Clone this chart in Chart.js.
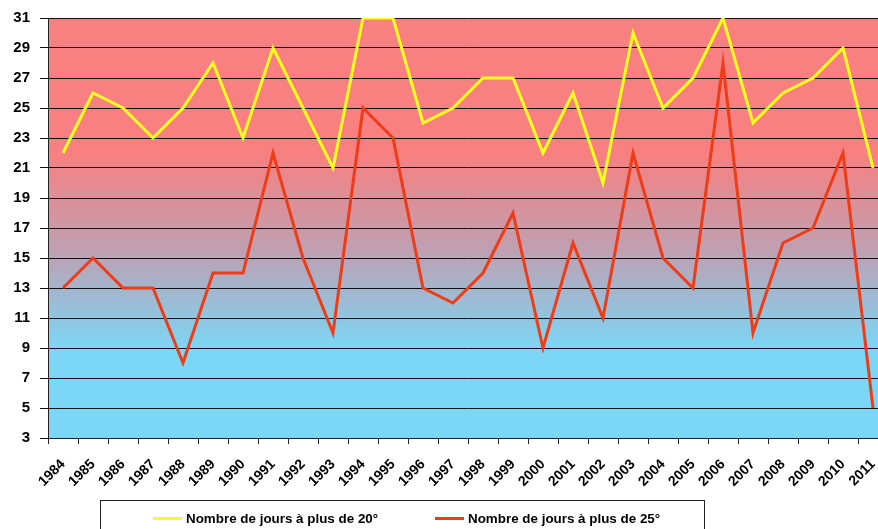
<!DOCTYPE html>
<html><head><meta charset="utf-8">
<script src="https://cdn.jsdelivr.net/npm/chart.js@4.4.1/dist/chart.umd.min.js"></script>
<style>
html,body{margin:0;padding:0;background:#fff;overflow:hidden;width:878px;height:529px;}
#wrap{position:relative;width:888px;height:529px;}
#legend{position:absolute;left:100px;top:500px;width:605px;height:40px;border:1px solid #222;box-sizing:border-box;font:bold 13.4px "Liberation Sans",Arial,sans-serif;color:#000;}
.it{position:absolute;top:10px;white-space:nowrap;}
.sw{display:inline-block;width:29px;height:3px;vertical-align:middle;margin-right:4px;position:relative;top:-1px;}
</style></head>
<body>
<div id="wrap"><canvas id="c" width="888" height="529"></canvas>
<div id="legend"></div></div>
<script>
const years = ["1984","1985","1986","1987","1988","1989","1990","1991","1992","1993","1994","1995","1996","1997","1998","1999","2000","2001","2002","2003","2004","2005","2006","2007","2008","2009","2010","2011"];
const days20 = [22,26,25,23,25,28,23,29,25,21,31,31,24,25,27,27,22,26,20,30,25,27,31,24,26,27,29,21];
const days25 = [13,15,13,13,8,14,14,22,15,10,25,23,13,12,14,18,9,16,11,22,15,13,28,10,16,17,22,5];
const seriesNames = ["Nombre de jours à plus de 20°","Nombre de jours à plus de 25°"];
const seriesColors = ["#ffff1e","#ee3c16"];
const yMin = 3, yMax = 31, yStep = 2;

const bgPlugin = {
  id:'bg',
  beforeDraw(chart){
    const {ctx, chartArea:a, scales:{y}} = chart;
    const g = ctx.createLinearGradient(0, y.getPixelForValue(22), 0, y.getPixelForValue(9));
    g.addColorStop(0,'rgb(248,128,128)');
    g.addColorStop(0.5,'rgb(190,160,178)');
    g.addColorStop(1,'rgb(124,214,245)');
    ctx.save();
    ctx.fillStyle = g;
    ctx.fillRect(a.left, a.top, a.right-a.left, a.bottom-a.top);
    ctx.restore();
  }
};

new Chart(document.getElementById('c'), {
  type:'line',
  data:{
    labels: years,
    datasets:[
      {label:seriesNames[0], data:days20, borderColor:seriesColors[0], borderWidth:3, pointRadius:0, tension:0, fill:false},
      {label:seriesNames[1], data:days25, borderColor:seriesColors[1], borderWidth:3, pointRadius:0, tension:0, fill:false}
    ]
  },
  options:{
    responsive:false, animation:false, devicePixelRatio:1,
    layout:{padding:{top:18,bottom:31,left:0,right:0}},
    plugins:{legend:{display:false}, tooltip:{enabled:false}},
    scales:{
      x:{
        offset:true,
        grid:{offset:true, drawOnChartArea:false, drawTicks:true, tickLength:6, color:'#222'},
        border:{color:'#222', width:1},
        ticks:{minRotation:45, maxRotation:45, autoSkip:false, color:'#000', padding:12,
          font:{family:'"Liberation Sans", Arial, sans-serif', size:14, weight:'bold'}},
        afterFit(s){ s.height = 60; s.paddingLeft = 0; s.paddingRight = 0; }
      },
      y:{
        min:yMin, max:yMax,
        grid:{color:'#111', lineWidth:1, tickLength:8},
        border:{color:'#222', width:1},
        ticks:{stepSize:yStep, color:'#000', padding:10,
          font:{family:'"Liberation Sans", Arial, sans-serif', size:15, weight:'bold'}},
        afterFit(s){ s.width = 48; s.paddingTop = 0; s.paddingBottom = 0; }
      }
    }
  },
  plugins:[bgPlugin]
});

const lg = document.getElementById('legend');
const pos = [52, 334];
seriesNames.forEach((n,i)=>{
  const d = document.createElement('div');
  d.className='it'; d.style.left = pos[i]+'px';
  const sw = document.createElement('span'); sw.className='sw'; sw.style.background = seriesColors[i];
  d.appendChild(sw); d.appendChild(document.createTextNode(n));
  lg.appendChild(d);
});
</script>
</body></html>
